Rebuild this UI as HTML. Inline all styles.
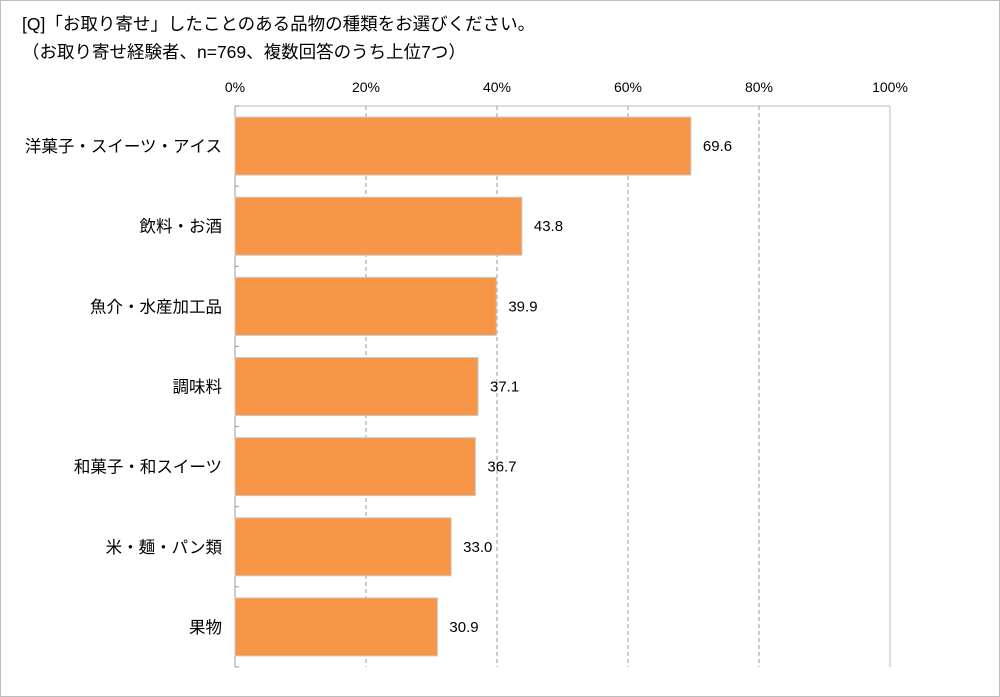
<!DOCTYPE html>
<html><head><meta charset="utf-8"><style>
body{margin:0;background:#fff;font-family:"Liberation Sans","Noto Sans CJK JP",sans-serif;}
#frame{position:absolute;left:0;top:0;width:998px;height:695px;border:1px solid #bdbdbd;}
.t{position:absolute;left:22px;font-size:17.5px;color:#000;white-space:nowrap;}
</style></head><body>
<div id="frame"></div>
<div class="t" style="top:11px">[Q]「お取り寄せ」したことのある品物の種類をお選びください。</div>
<div class="t" style="top:39px">（お取り寄せ経験者、n=769、複数回答のうち上位7つ）</div>
<svg id="c" width="1000" height="697" style="position:absolute;left:0;top:0"></svg>
<script>
const categories=["洋菓子・スイーツ・アイス","飲料・お酒","魚介・水産加工品","調味料","和菓子・和スイーツ","米・麺・パン類","果物"];
const values=[69.6,43.8,39.9,37.1,36.7,33.0,30.9];
const valueLabels=["69.6","43.8","39.9","37.1","36.7","33.0","30.9"];
const ticks=[0,20,40,60,80,100];
const tickLabels=["0%","20%","40%","60%","80%","100%"];
const svg=document.getElementById('c');const NS="http://www.w3.org/2000/svg";
const X0=235,X1=890,Y0=106,Y1=667;
const xs=v=>X0+(X1-X0)*v/100;
const band=(Y1-Y0)/categories.length;
const ys=i=>Y0+band*i;
function mk(t,a,txt){const e=document.createElementNS(NS,t);for(const k in a)e.setAttribute(k,a[k]);if(txt!=null)e.textContent=txt;svg.appendChild(e);return e;}
ticks.forEach((t,i)=>{
  if(t>0){const g=mk('line',{x1:xs(t),x2:xs(t),y1:Y0,y2:Y1,stroke:t==100?'#bbb':'#999','stroke-dasharray':t==100?'':'4,3'});
  
  }
  const l=mk('text',{x:xs(t),y:92,'text-anchor':'middle','font-size':14,fill:'#000'},tickLabels[i]);
  
  
});
const topBorder=mk('line',{x1:X0,x2:X1,y1:Y0,y2:Y0,stroke:'#bbb'});


const yAxis=mk('line',{x1:X0,x2:X0,y1:Y0,y2:Y1,stroke:'#999'});


for(let i=0;i<=categories.length;i++){const tk=mk('line',{x1:X0,x2:X0+4,y1:ys(i),y2:ys(i),stroke:'#999'});

}
categories.forEach((c,i)=>{
  const h=58,by=ys(i)+(band-h)/2;
  const r=mk('rect',{x:X0,y:by,width:xs(values[i])-X0,height:h,fill:'#f79646',stroke:'#c9c9c9','stroke-width':1});
  
  
  const vl=mk('text',{x:xs(values[i])+12,y:by+h/2+5,'font-size':15,fill:'#000'},valueLabels[i]);
  
  
  const cl=mk('text',{x:222,y:by+h/2+6,'text-anchor':'end','font-size':16.5,fill:'#000'},c);
  
  
});
</script>
</body></html>
